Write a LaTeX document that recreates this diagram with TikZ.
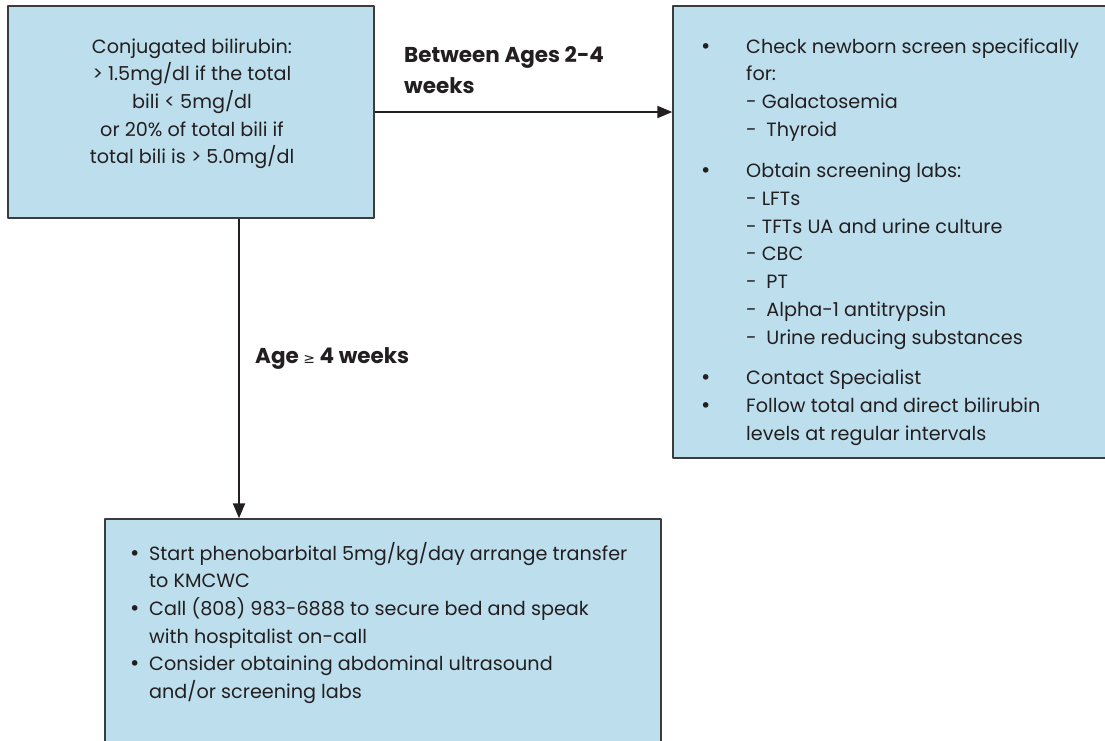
\documentclass[tikz,border=0pt]{standalone}
\usepackage{fontspec}
\setmainfont{Poppins}
\newfontfamily\symfont{DejaVu Sans}
\usetikzlibrary{arrows.meta}
\definecolor{boxblue}{RGB}{188,222,237}
\definecolor{ink}{RGB}{35,31,32}
\definecolor{edge}{RGB}{60,60,60}
\newcommand{\bul}{{\symfont •}}
\begin{document}
\begin{tikzpicture}[x=1pt,y=-1pt,>={Triangle[length=15pt,width=12pt]}, font=\fontsize{19.2}{27.7}\selectfont, line join=round]
	\tikzset{box/.style={draw=edge, line width=1.4pt, fill=boxblue, inner sep=0pt},
		txt/.style={text=ink, inner sep=0pt, anchor=base west},
		lbl/.style={text=ink, inner sep=0pt, anchor=base west, font=\fontsize{21.5}{31}\selectfont\bfseries},
		arr/.style={->, draw=ink, line width=2pt}}
	\useasboundingbox (0,0) rectangle (1105,740);
	\clip (0,0) rectangle (1105,740);
	% boxes
	\node[box, minimum width=366pt, minimum height=212pt] (crit) at (191,112) {};
	\node[box, minimum width=452pt, minimum height=452pt] (early) at (899,232) {};
	\node[box, minimum width=556pt, minimum height=250pt] (plan) at (383,644) {};
	% texts
	\node[txt, anchor=base] (critText) at (192,53) {\begin{tabular}[t]{@{}c@{}}
		Conjugated bilirubin:\\ > 1.5mg/dl if the total\\ bili < 5mg/dl\\
		or 20\% of total bili if\\ total bili is > 5.0mg/dl\end{tabular}};
	\node[txt] (earlyText) at (700,53) {\begin{tabular}[t]{@{}p{46pt}@{}l@{}}
		\bul & Check newborn screen specifically\\
		& for:\\
		& - Galactosemia\\
		& -\enspace Thyroid\\[14pt]
		\bul & Obtain screening labs:\\
		& - LFTs\\
		& - TFTs UA and urine culture\\
		& - CBC\\
		& -\enspace PT\\
		& -\enspace Alpha-1 antitrypsin\\
		& -\enspace Urine reducing substances\\[13pt]
		\bul & Contact Specialist\\
		\bul & Follow total and direct bilirubin\\
		& levels at regular intervals\end{tabular}};
	\node[txt] (planText) at (129,560) {\begin{tabular}[t]{@{}p{20pt}@{}l@{}}
		\bul & Start phenobarbital 5mg/kg/day arrange transfer\\
		& to KMCWC\\
		\bul & Call (808) 983-6888 to secure bed and speak\\
		& with hospitalist on-call\\
		\bul & Consider obtaining abdominal ultrasound\\
		& and/or screening labs\end{tabular}};
	% connectors
	\draw[arr] (crit.east) -- (crit.east -| early.west);
	\draw[arr] ([xshift=48pt]crit.south) -- ([xshift=48pt]crit.south |- plan.north);
	\node[lbl] (lblEarly) at (404,62) {\begin{tabular}[t]{@{}l@{}}Between Ages 2-4\\ weeks\end{tabular}};
	\node[lbl] (lblLate) at (255,363) {Age {\symfont\mdseries\fontsize{14}{14}\selectfont ≥} 4 weeks};
\end{tikzpicture}
\end{document}
